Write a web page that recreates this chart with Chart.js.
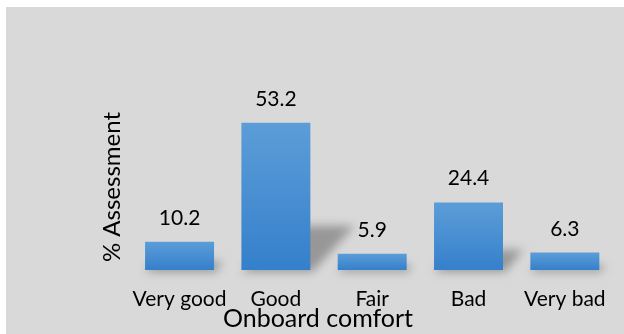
<!DOCTYPE html>
<html>
<head>
<meta charset="utf-8">
<script src="https://cdn.jsdelivr.net/npm/chart.js@4.4.1/dist/chart.umd.min.js"></script>
<style>
  html, body { margin: 0; padding: 0; background: #ffffff; }
  #wrap { position: absolute; left: 6px; top: 7px; width: 618px; height: 327px; }
  #chart { background: #d9d9d9; }
</style>
</head>
<body>
<div id="wrap"><canvas id="chart" width="618" height="327"></canvas></div>
<script>
const categories = ['Very good', 'Good', 'Fair', 'Bad', 'Very bad'];
const assessment = [10.2, 53.2, 5.9, 24.4, 6.3];

const FONT = 'Lato, "Open Sans", sans-serif';

// per-bar vertical gradient, light at the top, darker at the base
function barFill(context) {
  const chart = context.chart;
  const y = chart.scales.y;
  if (!y || context.type !== 'data') return '#4a8fd2';
  const top = y.getPixelForValue(context.raw);
  const base = y.getPixelForValue(0);
  if (!isFinite(top) || !isFinite(base) || top === base) return '#4a8fd2';
  const g = chart.ctx.createLinearGradient(0, top, 0, base);
  g.addColorStop(0, '#5c9dd8');
  g.addColorStop(1, '#3580cb');
  return g;
}

// soft slanted shadow lying behind each bar
const barShadow = {
  id: 'barShadow',
  beforeDatasetsDraw(chart) {
    const ctx = chart.ctx;
    const meta = chart.getDatasetMeta(0);
    ctx.save();
    ctx.filter = 'blur(5px)';
    ctx.fillStyle = 'rgba(60,60,60,0.42)';
    meta.data.forEach((bar) => {
      const half = bar.width / 2;
      const h = Math.min((bar.base - bar.y) * 0.3, 45);
      ctx.beginPath();
      ctx.moveTo(bar.x - half, bar.base + 2);
      ctx.lineTo(bar.x + half + 2, bar.base + 2);
      ctx.lineTo(bar.x + half + h, bar.base - h);
      ctx.lineTo(bar.x - half + h, bar.base - h);
      ctx.closePath();
      ctx.fill();
    });
    ctx.restore();
  }
};

// value printed above every bar
const valueLabels = {
  id: 'valueLabels',
  afterDatasetsDraw(chart) {
    const ctx = chart.ctx;
    const meta = chart.getDatasetMeta(0);
    ctx.save();
    ctx.font = '21px ' + FONT;
    ctx.fillStyle = '#000000';
    ctx.textAlign = 'center';
    ctx.textBaseline = 'alphabetic';
    meta.data.forEach((bar, i) => {
      ctx.fillText(assessment[i].toFixed(1), bar.x, bar.y - 17);
    });
    ctx.restore();
  }
};

new Chart(document.getElementById('chart'), {
  type: 'bar',
  data: {
    labels: categories,
    datasets: [{
      data: assessment,
      backgroundColor: barFill,
      borderWidth: 0,
      categoryPercentage: 1,
      barPercentage: 0.716
    }]
  },
  options: {
    responsive: false,
    animation: false,
    events: [],
    layout: { padding: { left: 17, right: 11, top: 97, bottom: 0 } },
    plugins: {
      legend: { display: false },
      tooltip: { enabled: false },
      title: {
        display: true,
        position: 'bottom',
        text: 'Onboard comfort',
        color: '#000000',
        font: { family: FONT, size: 25, weight: 'normal', lineHeight: 0.6 },
        // pulled up so it tucks right under the category labels
        padding: { top: -17.7, bottom: 7.5 }
      }
    },
    scales: {
      x: {
        grid: { display: false, drawTicks: false },
        border: { display: false },
        ticks: {
          color: '#000000',
          padding: 17,
          maxRotation: 0,
          autoSkip: false,
          font: { family: FONT, size: 21 }
        }
      },
      y: {
        min: 0,
        max: 60,
        grid: { display: false, drawTicks: false },
        border: { display: false },
        ticks: { display: false },
        title: {
          display: true,
          text: '% Assessment',
          color: '#000000',
          font: { family: FONT, size: 24, lineHeight: 1.2 },
          padding: { top: 75, bottom: 4.6 }
        }
      }
    }
  },
  plugins: [barShadow, valueLabels]
});
</script>
</body>
</html>
